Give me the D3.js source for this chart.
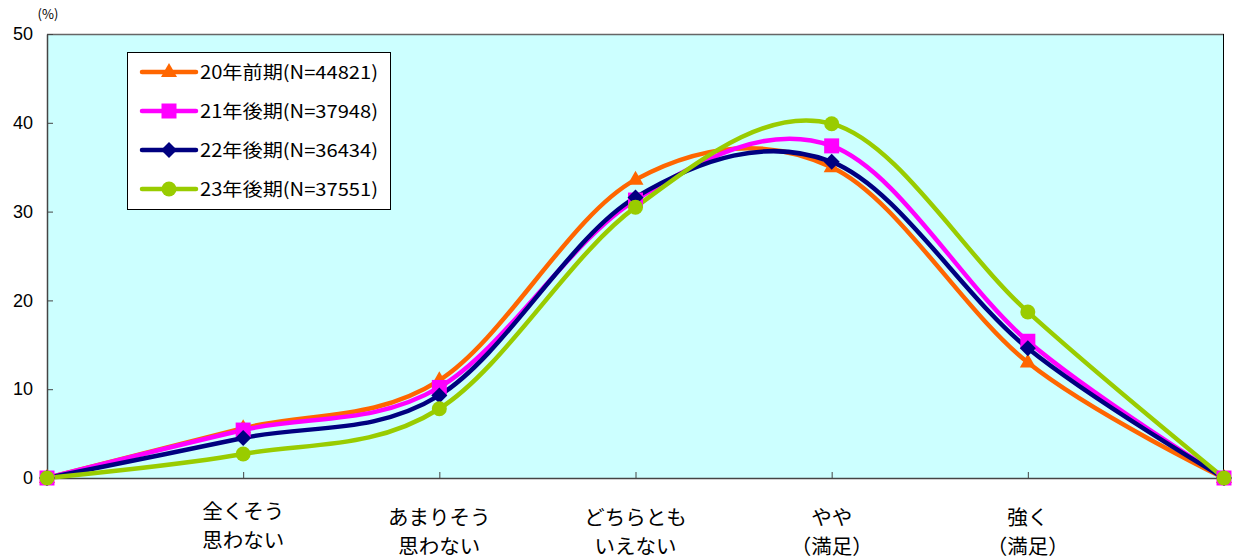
<!DOCTYPE html>
<html><head><meta charset="utf-8">
<script src="https://cdn.jsdelivr.net/npm/d3@7"></script>
<style>body{margin:0;background:#fff}svg{display:block}</style>
</head><body><svg id="c" width="1234" height="560"></svg>
<script>
const categories = ["", "全くそう\n思わない", "あまりそう\n思わない", "どちらとも\nいえない", "やや\n（満足）", "強く\n（満足）", ""];
const seriesNames = ["20年前期(N=44821)", "21年後期(N=37948)", "22年後期(N=36434)", "23年後期(N=37551)"];
const s20 = [0, 5.6, 11.0, 33.6, 35.0, 13.0, 0];
const s21 = [0, 5.4, 10.2, 31.3, 37.4, 15.4, 0];
const s22 = [0, 4.5, 9.3, 31.6, 35.6, 14.6, 0];
const s23 = [0, 2.7, 7.8, 30.5, 39.9, 18.7, 0];
const yTicks = [0, 10, 20, 30, 40, 50];

const colors = ["#FF6600", "#FF00FF", "#000080", "#99CC00"];
const series = [s20, s21, s22, s23];

function marker(k) {
  if (k === 0) return "M0,-9L8,5L-8,5Z";
  if (k === 1) return "M-7.5,-7.5H7.5V7.5H-7.5Z";
  if (k === 2) return "M0,-8L8,0L0,8L-8,0Z";
  return d3.symbol().type(d3.symbolCircle).size(Math.PI * 7.5 * 7.5)();
}

const svg = d3.select("#c");
const L = 47, R = 1224, T = 34, B = 478;
const x = d3.scalePoint().domain(d3.range(categories.length)).range([L, R]);
const y = d3.scaleLinear().domain([0, 50]).range([B, T]);
const font = "'Liberation Sans', Arial, sans-serif";
const jfont = "'Noto Sans CJK JP', sans-serif";

svg.append("rect").attr("x", L).attr("y", T).attr("width", R - L).attr("height", B - T)
  .attr("fill", "#CCFFFF");
svg.append("line").attr("x1", L).attr("x2", R).attr("y1", T + 0.5).attr("y2", T + 0.5).attr("stroke", "#666").attr("stroke-width", 1.5);
svg.append("line").attr("x1", R - 0.5).attr("x2", R - 0.5).attr("y1", T).attr("y2", B).attr("stroke", "#000").attr("stroke-width", 1);

const yAxis = d3.axisLeft(y).tickValues(yTicks).tickSize(-6).tickPadding(14).tickSizeOuter(0);
const gy = svg.append("g").attr("transform", `translate(${L},0)`).call(yAxis);
gy.select(".domain").attr("stroke", "#444").attr("stroke-width", 1.5);
gy.selectAll(".tick line").attr("stroke", "#444");
gy.selectAll("text").attr("font-family", font).attr("font-size", 18).attr("fill", "#000");

svg.append("text").attr("x", 48).attr("y", 19).attr("text-anchor", "middle")
  .attr("font-family", jfont).attr("font-size", 13).text("(%)");

const xAxis = d3.axisBottom(x).tickSize(-6).tickFormat("").tickSizeOuter(0);
const gx = svg.append("g").attr("transform", `translate(0,${B})`).call(xAxis);
gx.select(".domain").attr("stroke", "#444").attr("stroke-width", 1.5);
gx.selectAll(".tick line").attr("stroke", "#444");
gx.selectAll(".tick").filter((d, i) => i === 0 || i === categories.length - 1).select("line").remove();

categories.forEach((c, i) => {
  if (!c) return;
  const lines = c.split("\n");
  const t = svg.append("text").attr("x", x(i)).attr("y", i === 1 ? 519 : 525).attr("text-anchor", "middle")
    .attr("font-family", jfont).attr("font-size", 20.5).attr("fill", "#000");
  lines.forEach((ln, j) => t.append("tspan").attr("x", x(i)).attr("dy", j ? 29 : 0).text(ln));
});

const line = d3.line().x((d, i) => x(i)).y(d => y(d)).curve(d3.curveCardinal.tension(0));

series.forEach((s, k) => {
  svg.append("path").datum(s).attr("d", line).attr("fill", "none")
    .attr("stroke", colors[k]).attr("stroke-width", 4.5).attr("stroke-linejoin", "round");
});
series.forEach((s, k) => {
  svg.append("g").selectAll("path").data(s).join("path")
    .attr("transform", (d, i) => `translate(${x(i)},${y(d)})`)
    .attr("d", marker(k))
    .attr("fill", colors[k]);
});

const lg = svg.append("g");
lg.append("rect").attr("x", 127.5).attr("y", 52.5).attr("width", 263).attr("height", 157)
  .attr("fill", "#fff").attr("stroke", "#000").attr("stroke-width", 1);
seriesNames.forEach((n, k) => {
  const yy = 72 + k * 39;
  lg.append("line").attr("x1", 142).attr("x2", 196).attr("y1", yy).attr("y2", yy)
    .attr("stroke", colors[k]).attr("stroke-width", 4.5).attr("stroke-linecap", "round");
  lg.append("path").attr("transform", `translate(169,${yy})`)
    .attr("d", marker(k)).attr("fill", colors[k]);
  lg.append("text").attr("x", 200).attr("y", yy + 7).attr("font-family", jfont)
    .attr("font-size", 18).attr("textLength", 178).attr("lengthAdjust", "spacingAndGlyphs")
    .attr("fill", "#000").text(n);
});
</script></body></html>
